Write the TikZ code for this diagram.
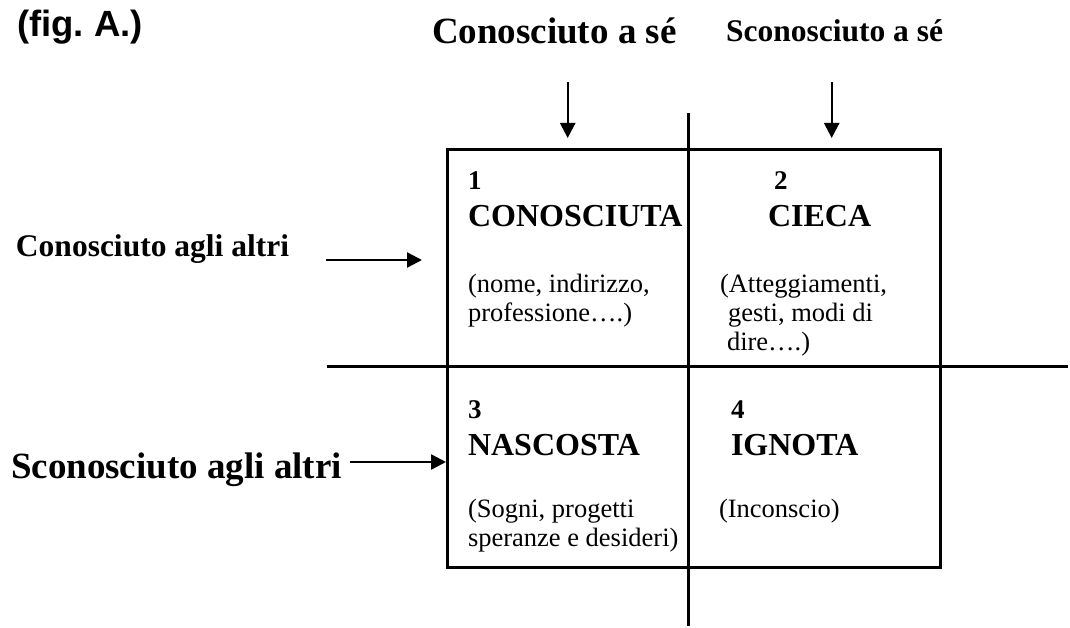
\documentclass[tikz,border=0pt]{standalone}
\usepackage{fontspec}
\setmainfont{Liberation Serif}
\newfontfamily\arialfont{Liberation Sans}
\usetikzlibrary{arrows.meta}
\frenchspacing
\begin{document}
\begin{tikzpicture}[x=1pt,y=-1pt,
  lbl/.style={anchor=base west,inner sep=0pt,outer sep=0pt},
  bigb/.style={lbl,font=\fontsize{37}{40}\selectfont\bfseries},
  midb/.style={lbl,font=\fontsize{31.5}{35}\selectfont\bfseries},
  cellb/.style={lbl,font=\fontsize{32}{35}\selectfont\bfseries},
  numb/.style={lbl,font=\fontsize{27}{30}\selectfont\bfseries},
  body/.style={lbl,font=\fontsize{26.5}{30}\selectfont},
  gridline/.style={line width=3pt},
  arr/.style={line width=2.4pt,-{Triangle[length=15pt,width=15pt]}}]
\useasboundingbox (0,0) rectangle (1070,628);
% title
\node[lbl,font=\arialfont\fontsize{36.5}{40}\selectfont\bfseries] (fig) at (17,37) {(fig. A.)};
% column headers
\node[bigb] (ka) at (432,44) {Conosciuto a sé};
\node[midb] (ska) at (726,42) {Sconosciuto a sé};
% row headers
\node[midb] (kal) at (16,257) {Conosciuto agli altri};
\node[bigb] (skal) at (11,478) {Sconosciuto agli altri};
% grid
\coordinate (boxtl) at (447,150);
\coordinate (boxbr) at (940,567);
\draw[gridline] (boxtl) rectangle (boxbr);
\coordinate (vtop) at (688,113);
\coordinate (vbot) at (688,626);
\draw[gridline] (vtop) -- (vbot);
\coordinate (hl) at (327,366);
\coordinate (hr) at (1068,366);
\draw[gridline] (hl) -- (hr);
% arrows
\coordinate (a1s) at (567.7,82);
\coordinate (a1e) at (567.7,138);
\coordinate (a2s) at (831.7,82);
\coordinate (a2e) at (831.7,138);
\coordinate (a3s) at (326,260);
\coordinate (a3e) at (422,260);
\coordinate (a4s) at (350,462);
\coordinate (a4e) at (446,462);
\draw[arr] (a1s) -- (a1e);
\draw[arr] (a2s) -- (a2e);
\draw[arr] (a3s) -- (a3e);
\draw[arr] (a4s) -- (a4e);
% cell 1
\node[numb] (n1) at (468,190) {1};
\node[cellb] (t1) at (468,227) {CONOSCIUTA};
\node[body] (d1a) at (468,292) {(nome, indirizzo,};
\node[body] (d1b) at (468,321) {professione….)};
% cell 2
\node[numb] (n2) at (774,190) {2};
\node[cellb] (t2) at (768,227) {CIECA};
\node[body] (d2a) at (720,292) {(Atteggiamenti,};
\node[body] (d2b) at (728,321) {gesti, modi di};
\node[body] (d2c) at (727,350) {dire….)};
% cell 3
\node[numb] (n3) at (468,418) {3};
\node[cellb] (t3) at (468,455) {NASCOSTA};
\node[body] (d3a) at (468,517) {(Sogni, progetti};
\node[body] (d3b) at (468,546) {speranze e desideri)};
% cell 4
\node[numb] (n4) at (731,418) {4};
\node[cellb] (t4) at (731,455) {IGNOTA};
\node[body] (d4) at (719,517) {(Inconscio)};
\end{tikzpicture}
\end{document}
